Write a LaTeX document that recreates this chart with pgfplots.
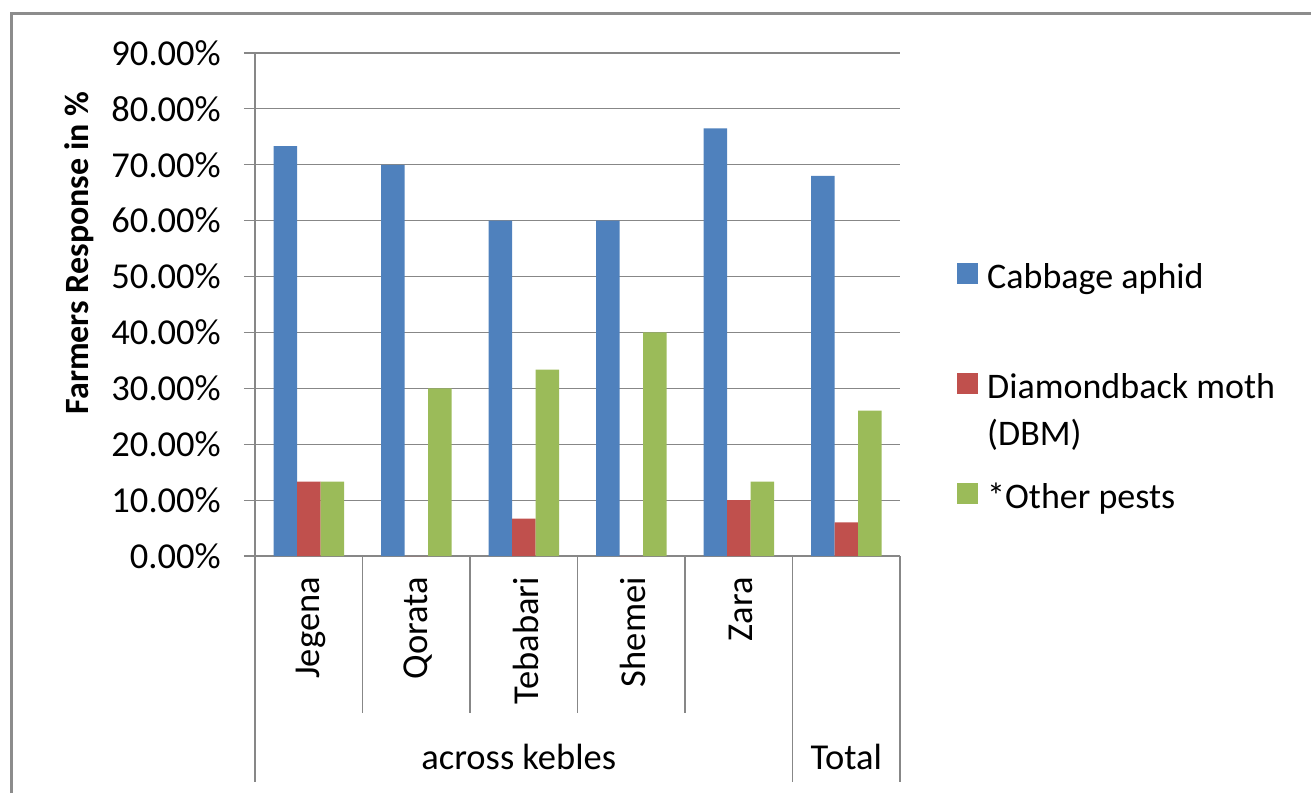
\documentclass[border=0pt]{standalone}
\usepackage{pgfplots}
\pgfplotsset{compat=1.18}
\usepackage{fontspec}
\setmainfont{Carlito}
\definecolor{cblue}{HTML}{4F81BD}
\definecolor{cred}{HTML}{C0504D}
\definecolor{cgreen}{HTML}{9BBB59}
\definecolor{gridc}{HTML}{878787}
\definecolor{framec}{HTML}{8C8C8C}
\begin{document}
\begin{tikzpicture}[x=1pt,y=1pt]
\useasboundingbox (0,0) rectangle (1311,793);
\draw[line width=3pt, color=framec] (11.5,0) -- (11.5,779.5) -- (1311,779.5);
\begin{axis}[
  at={(255pt,237pt)}, anchor=south west,
  width=645pt, height=503pt, scale only axis,
  xmin=-0.5, xmax=5.5, ymin=0, ymax=90,
  ybar=0pt, bar width=23.5pt,
  axis lines*=left,
  axis line style={draw=gridc, line width=1.2pt},
  ytick={0,10,...,90},
  yticklabels={0.00\%,10.00\%,20.00\%,30.00\%,40.00\%,50.00\%,60.00\%,70.00\%,80.00\%,90.00\%},
  ymajorgrids, grid style={draw=gridc, line width=1.2pt},
  tick align=outside, major tick length=11pt,
  tick style={draw=gridc, line width=1.2pt},
  xtick={0,1,2,3,4},
  xticklabels={Jegena,Qorata,Tebabari,Shemei,Zara},
  x tick style={draw=none},
  xticklabel style={rotate=90, anchor=east, inner sep=0pt, xshift=-10pt, yshift=-2pt},
  yticklabel style={anchor=east, inner sep=0pt, xshift=-23pt},
  tick label style={font=\fontsize{36.5}{43}\selectfont},
  clip=false,
  legend cell align=left,
  legend image code/.code={\fill[#1] (0pt,-8pt) rectangle (21pt,13pt);},
  legend style={at={(1.0884,0.5825)}, anchor=north west, draw=none, fill=none,
    inner sep=0pt, row sep={110pt,between origins}, column sep=9pt,
    font=\fontsize{36}{47}\selectfont,
    nodes={inner sep=0pt}},
]
\addplot[fill=cblue, draw=none] coordinates {(0,73.33) (1,70) (2,60) (3,60) (4,76.5) (5,68)};
\addlegendentry{Cabbage aphid}
\addplot[fill=cred, draw=none] coordinates {(0,13.33) (1,0) (2,6.67) (3,0) (4,10) (5,6)};
\addlegendentry{\raisebox{7pt}{\begin{tabular}[t]{@{}l@{}}Diamondback moth\\(DBM)\end{tabular}}}
\addplot[fill=cgreen, draw=none] coordinates {(0,13.33) (1,30) (2,33.33) (3,40) (4,13.33) (5,26)};
\addlegendentry{*Other pests}
% multi-level category separators
\draw[draw=gridc, line width=1.2pt] (axis cs:-0.5,0) -- ++(0pt,-226pt);
\draw[draw=gridc, line width=1.2pt] (axis cs:4.5,0) -- ++(0pt,-226pt);
\draw[draw=gridc, line width=1.2pt] (axis cs:5.5,0) -- ++(0pt,-226pt);
\draw[draw=gridc, line width=1.2pt] (axis cs:0.5,0) -- ++(0pt,-157pt);
\draw[draw=gridc, line width=1.2pt] (axis cs:1.5,0) -- ++(0pt,-157pt);
\draw[draw=gridc, line width=1.2pt] (axis cs:2.5,0) -- ++(0pt,-157pt);
\draw[draw=gridc, line width=1.2pt] (axis cs:3.5,0) -- ++(0pt,-157pt);
\node[anchor=base, font=\fontsize{36.5}{43}\selectfont, inner sep=0pt] at ([xshift=-5pt,yshift=-213pt]axis cs:2,0) {across kebles};
\node[anchor=base, font=\fontsize{36.5}{43}\selectfont, inner sep=0pt] at ([yshift=-213pt]axis cs:5,0) {Total};
\end{axis}
\node[rotate=90, font=\fontsize{34}{40}\selectfont\bfseries, inner sep=0pt] at (79,540) {Farmers Response in \%};
\end{tikzpicture}
\end{document}
